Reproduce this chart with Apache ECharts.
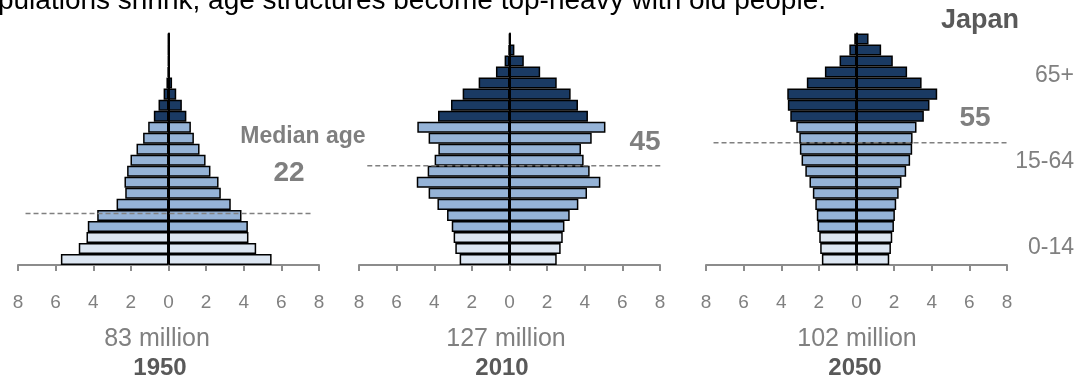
<!DOCTYPE html>
<html>
<head>
<meta charset="utf-8">
<script src="https://cdn.jsdelivr.net/npm/echarts@6/dist/echarts.min.js"></script>
<style>
    html, body { margin: 0; padding: 0; background: #fff; }
    #pyramids { width: 1088px; height: 383px; }
</style>
</head>
<body>
<div id="pyramids"></div>
<script>

// Data (millions of people per 5-year age group, from 0-4 up to 100+)
// ------------------------------

var ageGroups = ['0-4', '5-9', '10-14', '15-19', '20-24', '25-29', '30-34', '35-39', '40-44', '45-49',
    '50-54', '55-59', '60-64', '65-69', '70-74', '75-79', '80-84', '85-89', '90-94', '95-99', '100+'];

var male1950   = [5.72, 4.77, 4.36, 4.29, 3.79, 2.76, 2.30, 2.34, 2.20, 2.02, 1.70, 1.35, 1.08, 0.78, 0.53, 0.26, 0.11, 0.04, 0.02, 0.01, 0.0];
var female1950 = [5.48, 4.66, 4.25, 4.22, 3.88, 3.31, 2.78, 2.66, 2.23, 1.97, 1.65, 1.35, 1.19, 0.95, 0.71, 0.41, 0.19, 0.08, 0.03, 0.01, 0.0];
var male2010   = [2.65, 2.88, 2.97, 3.07, 3.32, 3.83, 4.30, 4.93, 4.35, 3.98, 3.78, 4.30, 4.90, 3.80, 3.11, 2.49, 1.64, 0.72, 0.26, 0.05, 0.01];
var female2010 = [2.51, 2.72, 2.83, 2.92, 3.20, 3.66, 4.12, 4.83, 4.26, 3.94, 3.80, 4.37, 5.10, 4.17, 3.64, 3.25, 2.51, 1.63, 0.76, 0.26, 0.04];
var male2050   = [1.84, 1.93, 1.98, 2.07, 2.11, 2.19, 2.32, 2.50, 2.72, 2.92, 3.01, 3.04, 3.20, 3.52, 3.65, 3.68, 2.64, 1.68, 0.90, 0.38, 0.12];
var female2050 = [1.74, 1.83, 1.90, 1.99, 2.04, 2.11, 2.24, 2.39, 2.64, 2.85, 2.96, 2.98, 3.19, 3.58, 3.88, 4.29, 3.46, 2.69, 1.93, 1.31, 0.64];

var years = ['1950', '2010', '2050'];
var totals = ['83 million', '127 million', '102 million'];
var medianAge = [22, 45, 55];
var medianLineAge = [23.4, 45, 55.4];   // where the dashed line sits (age)
var groupLabels = ['65+', '15-64', '0-14'];

var males = [male1950, male2010, male2050];
var females = [female1950, female2010, female2050];


// Setup
// ------------------------------

var chart = echarts.init(document.getElementById('pyramids'));

var gridLeft = [18, 359, 706];
var dashFrom = [-7.6, -7.56, -7.6];
var dashTo = [7.65, 8.06, 8.0];
var medianPos = [[289, 173], [645, 142], [975, 118]];
var totalX = [157, 506, 857];
var yearX = [160, 502, 855];

var colorLight = '#dce6f2';
var colorMid = '#95b3d7';
var colorDark = '#1a3a63';

// colour by broad age band
function bandColor(p) {
    if (p.dataIndex < 3) return colorLight;
    if (p.dataIndex < 13) return colorMid;
    return colorDark;
}

var grids = [], xAxes = [], yAxes = [], series = [], graphics = [];

for (var i = 0; i < 3; i++) {
    grids.push({left: gridLeft[i], top: 33.5, width: 301, height: 231.5});

    xAxes.push({
        type: 'value', gridIndex: i, min: -8, max: 8, interval: 2,
        splitLine: {show: false},
        axisLine: {show: true, onZero: false, lineStyle: {color: '#8c8c8c', width: 2}},
        axisTick: {show: true, length: 6, lineStyle: {color: '#8c8c8c', width: 2}},
        axisLabel: {
            margin: 28, color: '#808080', fontSize: 19,
            fontFamily: 'Liberation Sans, Arial, sans-serif',
            formatter: function(v) { return Math.abs(v); }
        }
    });

    // age groups
    yAxes.push({
        type: 'category', gridIndex: i, data: ageGroups,
        axisLine: {show: true, onZero: true, lineStyle: {color: '#000', width: 2}},
        axisTick: {show: false}, axisLabel: {show: false}, splitLine: {show: false}
    });
    // hidden age scale for the median line
    yAxes.push({
        type: 'value', gridIndex: i, min: 0, max: 105, show: false, splitLine: {show: false}
    });

    series.push({
        type: 'bar', xAxisIndex: i, yAxisIndex: i * 2,
        data: males[i].map(function(v) { return -v; }),
        barCategoryGap: '0%', barGap: '-100%',
        itemStyle: {color: bandColor, borderColor: '#000', borderWidth: 1.5},
        silent: true
    });
    series.push({
        type: 'bar', xAxisIndex: i, yAxisIndex: i * 2,
        data: females[i],
        barCategoryGap: '0%', barGap: '-100%',
        itemStyle: {color: bandColor, borderColor: '#000', borderWidth: 1.5},
        silent: true
    });
    series.push({
        type: 'line', xAxisIndex: i, yAxisIndex: i * 2 + 1,
        data: [[dashFrom[i], medianLineAge[i]], [dashTo[i], medianLineAge[i]]],
        symbol: 'none', clip: false, z: 5, silent: true,
        lineStyle: {color: '#808080', width: 1.5, type: [5, 3]}
    });

    graphics.push({
        type: 'text', x: medianPos[i][0], y: medianPos[i][1],
        style: {text: String(medianAge[i]), align: 'center', verticalAlign: 'middle',
            fill: '#7f7f7f', fontSize: 28, fontWeight: 'bold', fontFamily: 'Liberation Sans, Arial, sans-serif'}
    });
    graphics.push({
        type: 'text', x: totalX[i], y: 339,
        style: {text: totals[i], align: 'center', verticalAlign: 'middle',
            fill: '#808080', fontSize: 25, fontFamily: 'Liberation Sans, Arial, sans-serif'}
    });
    graphics.push({
        type: 'text', x: yearX[i], y: 368,
        style: {text: years[i], align: 'center', verticalAlign: 'middle',
            fill: '#595959', fontSize: 24, fontWeight: 'bold', fontFamily: 'Liberation Sans, Arial, sans-serif'}
    });
}

// Headline, cut off by the frame at the top left
graphics.push({
    type: 'text', x: 826, y: 1,
    style: {text: 'As populations shrink, age structures become top-heavy with old people.',
        align: 'right', verticalAlign: 'middle', fill: '#000', fontSize: 28,
        fontFamily: 'Liberation Sans, Arial, sans-serif'}
});
graphics.push({
    type: 'text', x: 980, y: 21,
    style: {text: 'Japan', align: 'center', verticalAlign: 'middle', fill: '#595959',
        fontSize: 27, fontWeight: 'bold', fontFamily: 'Liberation Sans, Arial, sans-serif'}
});
graphics.push({
    type: 'text', x: 303, y: 137,
    style: {text: 'Median age', align: 'center', verticalAlign: 'middle', fill: '#7f7f7f',
        fontSize: 23, fontWeight: 'bold', fontFamily: 'Liberation Sans, Arial, sans-serif'}
});

var groupY = [76, 162, 248];
for (var g = 0; g < groupLabels.length; g++) {
    graphics.push({
        type: 'text', x: 1074, y: groupY[g],
        style: {text: groupLabels[g], align: 'right', verticalAlign: 'middle', fill: '#808080',
            fontSize: 23, fontFamily: 'Liberation Sans, Arial, sans-serif'}
    });
}

chart.setOption({
    animation: false,
    backgroundColor: '#fff',
    grid: grids,
    xAxis: xAxes,
    yAxis: yAxes,
    series: series,
    graphic: graphics
});

</script>
</body>
</html>
